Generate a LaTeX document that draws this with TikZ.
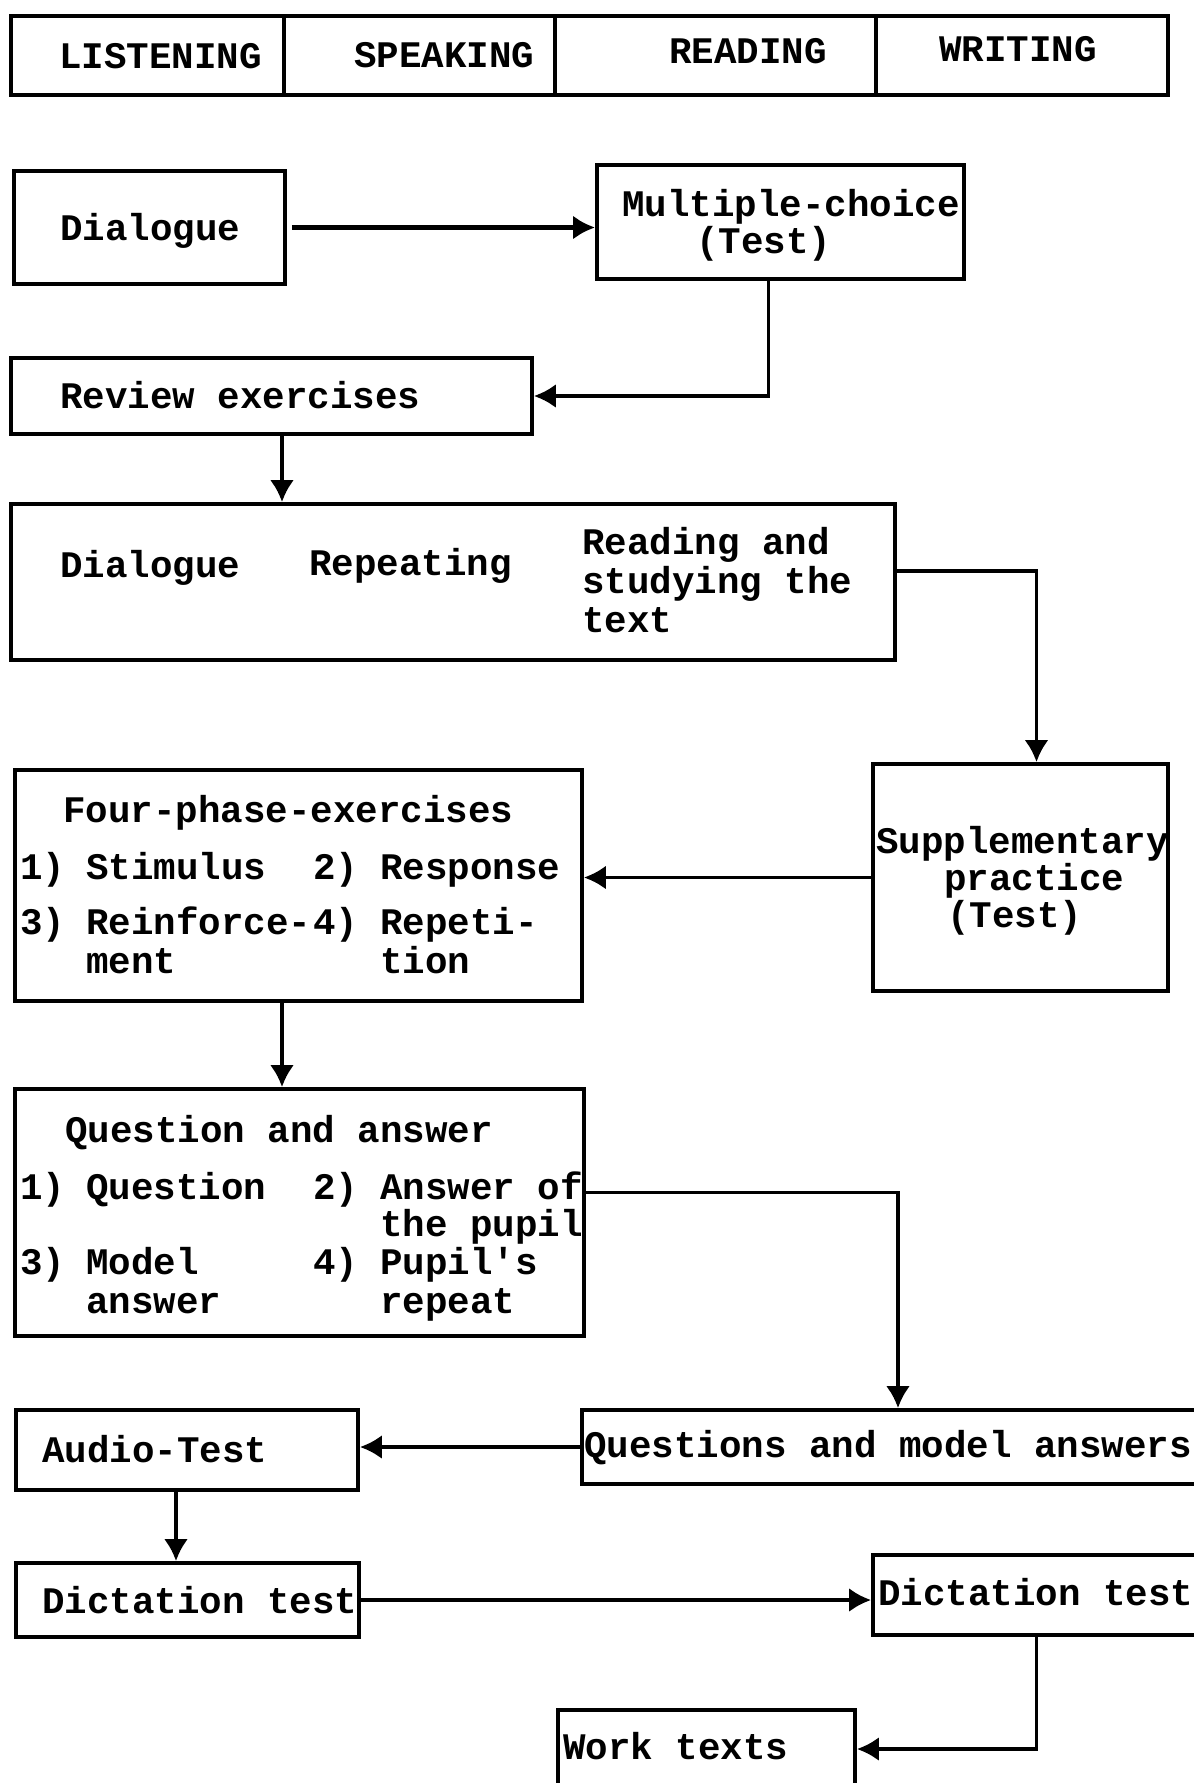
\documentclass[tikz,border=0pt]{standalone}
\usepackage{fontspec}
\usetikzlibrary{arrows.meta,fit}
\newfontfamily\twfont{Liberation Mono}
\newcommand{\lbfont}{\twfont\bfseries\fontsize{18.75}{22}\selectfont}
\tikzset{
  box/.style={draw, line width=1.9pt, inner sep=0pt, rectangle},
  lbl/.style={anchor=base west, inner sep=0pt, font=\lbfont},
  conn/.style={line width=1.9pt},
  arr/.style={conn, -{Latex[length=11pt,width=12pt]}},
}
\begin{document}
\begin{tikzpicture}[x=0.5pt,y=-0.5pt]
\useasboundingbox (0,0) rectangle (1194,1783);
\clip (0,0) rectangle (1194,1783);
\fill[white] (0,0) rectangle (1194,1783);

% header bar
\node[box, fit={(11,16) (284,95)}] (c1) {};
\node[box, fit={(284,16) (555,95)}] (c2) {};
\node[box, fit={(555,16) (876,95)}] (c3) {};
\node[box, fit={(876,16) (1168,95)}] (c4) {};
\node[lbl] (h1) at (59,68) {LISTENING};
\node[lbl] (h2) at (354,67) {SPEAKING};
\node[lbl] (h3) at (669,63) {READING};
\node[lbl] (h4) at (939,61) {WRITING};

% boxes
\node[box, fit={(14,171) (285,284)}] (dlg) {};
\node[lbl] (tdlg) at (60,240) {Dialogue};

\node[box, fit={(597,165) (964,279)}] (mc) {};
\node[lbl] (tmc1) at (622,216) {Multiple-choice};
\node[lbl] (tmc2) at (696,253) {(Test)};

\node[box, fit={(11,358) (532,434)}] (rev) {};
\node[lbl] (trev) at (60,408) {Review exercises};

\node[box, fit={(11,504) (895,660)}] (big) {};
\node[lbl] (tb1) at (60,577) {Dialogue};
\node[lbl] (tb2) at (309,575) {Repeating};
\node[lbl] (tb3) at (582,554) {Reading and};
\node[lbl] (tb4) at (582,593) {studying the};
\node[lbl] (tb5) at (582,632) {text};

\node[box, fit={(873,764) (1168,991)}] (sup) {};
\node[lbl] (ts1) at (876,853) {Supplementary};
\node[lbl] (ts2) at (944,890) {practice};
\node[lbl] (ts3) at (947,927) {(Test)};

\node[box, fit={(15,770) (582,1001)}] (fp) {};
\node[lbl] (tf0) at (63,822) {Four-phase-exercises};
\node[lbl] (tf1a) at (20,879) {1)};
\node[lbl] (tf1b) at (86,879) {Stimulus};
\node[lbl] (tf2a) at (313,879) {2)};
\node[lbl] (tf2b) at (380,879) {Response};
\node[lbl] (tf3a) at (20,934) {3)};
\node[lbl] (tf3b) at (86,934) {Reinforce-};
\node[lbl] (tf4a) at (313,934) {4)};
\node[lbl] (tf4b) at (380,934) {Repeti-};
\node[lbl] (tf5) at (86,973) {ment};
\node[lbl] (tf6) at (380,973) {tion};

\node[box, fit={(15,1089) (584,1336)}] (qa) {};
\node[lbl] (tq0) at (65,1142) {Question and answer};
\node[lbl] (tq1a) at (20,1199) {1)};
\node[lbl] (tq1b) at (86,1199) {Question};
\node[lbl] (tq2a) at (313,1199) {2)};
\node[lbl] (tq2b) at (380,1199) {Answer of};
\node[lbl] (tq3) at (380,1236) {the pupil};
\node[lbl] (tq4a) at (20,1274) {3)};
\node[lbl] (tq4b) at (86,1274) {Model};
\node[lbl] (tq5a) at (313,1274) {4)};
\node[lbl] (tq5b) at (380,1274) {Pupil's};
\node[lbl] (tq6) at (86,1313) {answer};
\node[lbl] (tq7) at (380,1313) {repeat};

\node[box, fit={(582,1410) (1200,1484)}] (qn) {};
\node[lbl] (tqn) at (584,1457) {Questions and model answers};

\node[box, fit={(16,1410) (358,1490)}] (au) {};
\node[lbl] (tau) at (42,1462) {Audio-Test};

\node[box, fit={(16,1563) (359,1637)}] (dt1) {};
\node[lbl] (tdt1) at (42,1613) {Dictation test};

\node[box, fit={(873,1555) (1200,1635)}] (dt2) {};
\node[lbl] (tdt2) at (878,1605) {Dictation test};

\node[box, fit={(558,1710) (855,1788)}] (wt) {};
\node[lbl] (twt) at (563,1759) {Work texts};

% helper coordinates
\coordinate (cA) at (282,0);

% connectors
\draw[arr, line width=2.6pt] ([xshift=2.5pt]dlg.east) -- (dlg.east -| mc.west);
\draw[arr] ([xshift=-6pt]mc.south) |- (rev.east);
\draw[arr] (rev.south -| cA) -- (big.north -| cA);
\draw[arr] ([yshift=5.5pt]big.east) -| ([xshift=8pt]sup.north);
\draw[arr] (sup.west) -- (sup.west -| fp.east);
\draw[arr] (fp.south -| cA) -- (qa.north -| cA);
\draw[arr] ([yshift=10pt]qa.east) -| ([xshift=3.5pt]qn.north);
\draw[arr] (qn.west) -- (qn.west -| au.east);
\draw[arr] ([xshift=-5.5pt]au.south) -- ([xshift=-5.5pt]au.south |- dt1.north);
\draw[arr] (dt1.east) -- (dt1.east -| dt2.west);
\draw[arr] (dt2.south) |- (wt.east);
\end{tikzpicture}
\end{document}
